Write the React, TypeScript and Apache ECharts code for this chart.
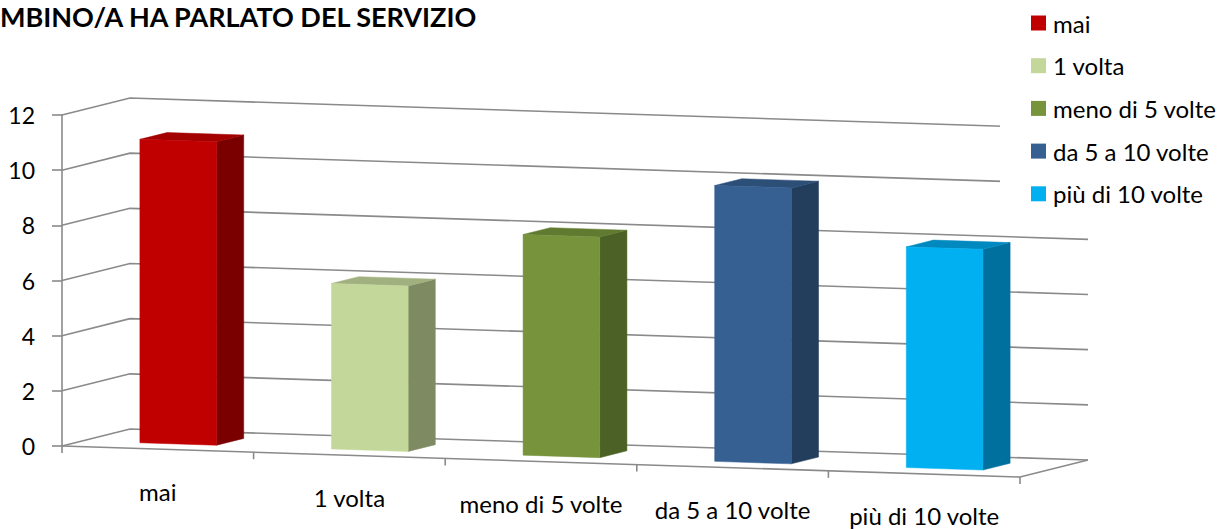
import React, { useEffect, useRef } from "react";
import * as echarts from "echarts";

const titleText = "MBINO/A HA PARLATO DEL SERVIZIO";
const categories = ["mai", "1 volta", "meno di 5 volte", "da 5 a 10 volte", "più di 10 volte"];
const values = [11, 6, 8, 10, 8];
const yTicks = [0, 2, 4, 6, 8, 10, 12];
const frontColors = ["#C00000", "#C4D79B", "#77933C", "#366092", "#00B0F0"];
const topColors = ["#A30000", "#A0B07E", "#607A30", "#2C4F78", "#0089BF"];
const sideColors = ["#7A0000", "#7E8B62", "#4C6126", "#233D5D", "#00709F"];

const FONT = "Lato";
const SLANT = 31 / 958;
const DEPTH = [68, -17];
const GRID_COLOR = "#8a8a8a";

function proj(api: any, u: number, v: number, d: number) {
  const c = api.coord([u, v]);
  const o = api.coord([0, 0]);
  return [c[0] + d * DEPTH[0], c[1] + (c[0] - o[0]) * SLANT + d * DEPTH[1]];
}

export default function App() {
  const ref = useRef<HTMLDivElement>(null);
  useEffect(() => {
    if (!ref.current) return;
    const chart = echarts.init(ref.current, undefined, { renderer: "svg" });
    const n = categories.length;

    const barSeries = categories.map((name, i) => ({
      name,
      type: "custom",
      z: 5,
      silent: true,
      itemStyle: { color: frontColors[i] },
      data: [[i, values[i]]],
      renderItem: (params: any, api: any) => {
        const idx = api.value(0);
        const v = api.value(1);
        const u0 = idx + 0.3, u1 = idx + 0.7, d0 = 0.3, d1 = 0.7;
        const f = [proj(api, u0, 0, d0), proj(api, u1, 0, d0), proj(api, u1, v, d0), proj(api, u0, v, d0)];
        const s = [proj(api, u1, 0, d0), proj(api, u1, 0, d1), proj(api, u1, v, d1), proj(api, u1, v, d0)];
        const t = [proj(api, u0, v, d0), proj(api, u1, v, d0), proj(api, u1, v, d1), proj(api, u0, v, d1)];
        return {
          type: "group",
          children: [
            { type: "polygon", shape: { points: s }, style: { fill: sideColors[idx], stroke: sideColors[idx], lineWidth: 0.5 } },
            { type: "polygon", shape: { points: t }, style: { fill: topColors[idx], stroke: topColors[idx], lineWidth: 0.5 } },
            { type: "polygon", shape: { points: f }, style: { fill: frontColors[idx], stroke: frontColors[idx], lineWidth: 0.5 } },
          ],
        };
      },
    }));

    const option: any = {
      animation: false,
      title: {
        text: titleText,
        left: 0,
        top: 3,
        padding: 0,
        textStyle: { fontSize: 27, fontWeight: "bold", fontFamily: FONT, color: "#000" },
      },
      legend: {
        data: categories,
        orient: "vertical",
        left: 1000,
        top: 0,
        padding: [9, 4, 16, 31],
        backgroundColor: "#fff",
        itemWidth: 15,
        itemHeight: 15,
        itemGap: 14.7,
        icon: "rect",
        selectedMode: false,
        textStyle: { fontSize: 24, fontFamily: FONT, color: "#000", lineHeight: 28, padding: [0, 0, 0, 2] },
      },
      grid: { left: 62, top: 115, width: 958, height: 331 },
      xAxis: { type: "value", min: 0, max: n, show: false },
      yAxis: {
        type: "value",
        min: 0,
        max: 12,
        interval: 2,
        axisLine: { show: true, lineStyle: { color: GRID_COLOR, width: 1.6 } },
        axisTick: { show: true, length: 10, lineStyle: { color: GRID_COLOR, width: 1.6 } },
        axisLabel: { margin: 27, fontSize: 23, fontFamily: FONT, color: "#000" },
        splitLine: { show: false },
      },
      series: [
        {
          type: "custom",
          name: "walls",
          silent: true,
          z: 1,
          data: yTicks.map((v) => [0, v]),
          renderItem: (params: any, api: any) => {
            const v = api.value(1);
            return {
              type: "polyline",
              shape: { points: [proj(api, 0, v, 0), proj(api, 0, v, 1), proj(api, n, v, 1)] },
              style: { stroke: GRID_COLOR, lineWidth: 1.6, fill: "none" },
            };
          },
        },
        {
          type: "custom",
          name: "floor",
          silent: true,
          z: 1,
          data: [[0, 0]],
          renderItem: (params: any, api: any) => ({
            type: "polyline",
            shape: { points: [proj(api, 0, 0, 0), proj(api, n, 0, 0), proj(api, n, 0, 1)] },
            style: { stroke: GRID_COLOR, lineWidth: 1.6, fill: "none" },
          }),
        },
        {
          type: "custom",
          name: "catTicks",
          silent: true,
          z: 1,
          data: Array.from({ length: n + 1 }, (_, k) => [k, 0]),
          renderItem: (params: any, api: any) => {
            const p = proj(api, api.value(0), 0, 0);
            return {
              type: "line",
              shape: { x1: p[0], y1: p[1], x2: p[0], y2: p[1] + 7 },
              style: { stroke: GRID_COLOR, lineWidth: 1.6 },
            };
          },
        },
        {
          type: "custom",
          name: "catLabels",
          silent: true,
          z: 1,
          data: categories.map((_, i) => [i, 0]),
          renderItem: (params: any, api: any) => {
            const i = api.value(0);
            const p = proj(api, i + 0.5, 0, 0);
            return {
              type: "text",
              style: {
                text: categories[i],
                x: p[0],
                y: p[1] + 42,
                align: "center",
                verticalAlign: "middle",
                fontSize: 24,
                fontFamily: FONT,
                fill: "#000",
              },
            };
          },
        },
        ...barSeries,
      ],
    };
    chart.setOption(option);
    return () => chart.dispose();
  }, []);
  return <div ref={ref} style={{ position: "absolute", left: 0, top: 0, width: 1223, height: 529 }} />;
}
